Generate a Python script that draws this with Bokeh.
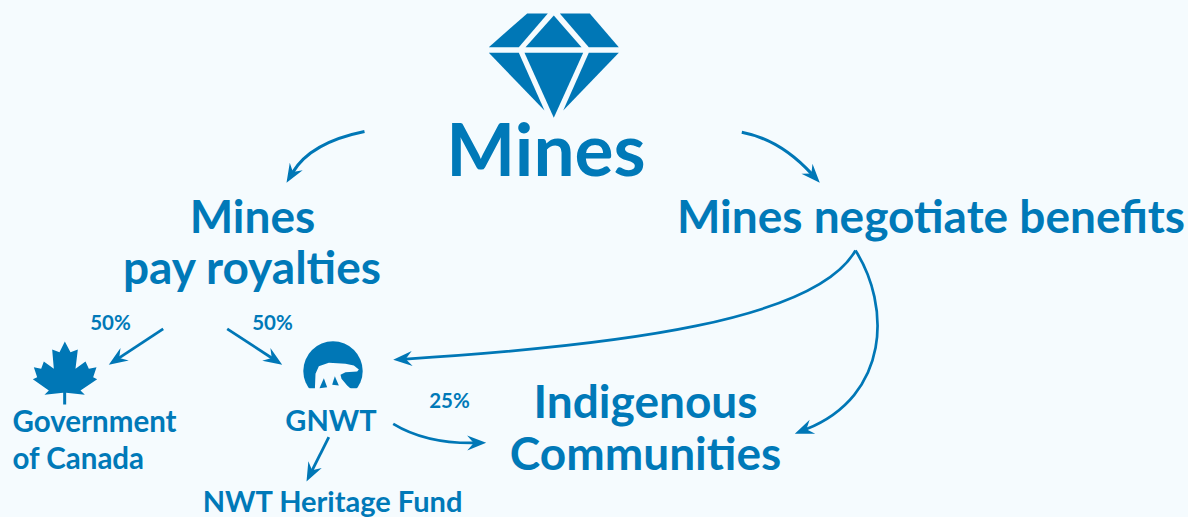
from bokeh.plotting import figure
from bokeh.models import Range1d
from bokeh.core.properties import value
from bokeh.embed import file_html
from bokeh.resources import INLINE
import numpy as np

BG = "#f5fbfe"
BLUE = "#0077b6"
TXT = "#0079b8"
FONT = "Lato"
BASE_SHIFT = 0.42  # em: the svg text sits this far under the requested baseline

# labels: text, left x, baseline y, font size px
labels = ["Mines", "Mines", "pay royalties", "Mines negotiate benefits", "Indigenous", "Communities",
          "Government", "of Canada", "GNWT", "NWT Heritage Fund", "50%", "50%", "25%"]
label_x = [545.5, 252, 252, 930.5, 645, 645, 12, 12, 330.5, 332.5, 110, 272, 449]
label_y = [178, 234, 285, 234, 419, 471, 432, 469, 431, 512, 330, 330, 408]
label_size = [73, 46, 46, 46, 46, 46, 29.5, 29.5, 29, 29, 20.5, 20.5, 20.5]
label_align = ["center", "center", "center", "center", "center", "center",
               "left", "left", "center", "center", "center", "center", "center"]

# curves: start, control(s), tip
quad_curves = [
    ((364, 131), (310, 142), (286, 182.3), 3.2),
    ((741.3, 131.7), (779.7, 139), (819.3, 182.3), 3.2),
    ((392.7, 423.3), (425, 443), (485.7, 442.3), 2.7),
]
cubic_curves = [
    ((855, 250), (815, 320), (620, 345), (392.7, 359.3), 2.7),
    ((855, 250), (890, 305), (890, 395), (794.3, 433.3), 2.7),
]
straight_arrows = [
    ((162.7, 328.3), (108.3, 364.3)),
    ((226.7, 328.3), (281.7, 364.3)),
    ((328.3, 436.7), (306, 481)),
]

diamond = [
    [(526.7, 13), (547.3, 13), (518.3, 46.7), (488.3, 46.7)],
    [(553.3, 15), (581, 46.7), (525, 46.7)],
    [(559.3, 13), (589.3, 13), (618.3, 46.7), (588.3, 46.7)],
    [(488.3, 52.3), (518.3, 52.3), (544, 110)],
    [(524, 52.3), (582.7, 52.3), (553.3, 117.3)],
    [(588.3, 52.3), (618.3, 52.3), (562.7, 110)],
]
leaf = [(118, 18), (135, 50), (157, 42), (150, 100), (180, 78), (190, 100), (213, 95), (203, 125),
        (215, 131), (165, 165), (178, 178), (122, 172), (122, 207), (113, 207), (113, 172), (57, 178),
        (70, 165), (22, 131), (35, 125), (25, 95), (47, 100), (55, 78), (85, 100), (80, 42), (102, 50)]
bear = [(58, 165), (60, 115), (70, 92), (100, 82), (150, 85), (175, 90), (190, 102), (185, 108), (150, 110),
        (135, 118), (138, 130), (155, 150), (172, 165)]
bear_legs = [[(72, 158), (85, 128), (95, 155)], [(110, 148), (118, 122), (130, 150)]]
disc = (332.5, 370.5, 29.7)
disc_cut_y = 387.8

p = figure(width=1188, height=517, output_backend="svg", toolbar_location=None,
           x_range=Range1d(0, 1188), y_range=Range1d(517, 0), min_border=0,
           background_fill_color=BG, border_fill_color=BG, outline_line_color=None)
p.axis.visible = False
p.grid.visible = False


def patch(pts, color):
    p.patch([q[0] for q in pts], [q[1] for q in pts], fill_color=color, line_color=None)


def head(tip, frm, L=19, W=7.5, N=12.5):
    d = np.array(tip, float) - np.array(frm, float)
    d /= np.hypot(*d)
    n = np.array([-d[1], d[0]])
    t = np.array(tip, float)
    patch([tuple(t), tuple(t - d * L + n * W), tuple(t - d * N), tuple(t - d * L - n * W)], BLUE)


for s, c, t, w in quad_curves:
    d = np.array(t, float) - np.array(c, float)
    e = np.array(t, float) - d / np.hypot(*d) * 12
    p.quadratic(x0=[s[0]], y0=[s[1]], x1=[e[0]], y1=[e[1]], cx=[c[0]], cy=[c[1]], line_color=BLUE, line_width=w)
    head(t, c)
for s, c1, c2, t, w in cubic_curves:
    d = np.array(t, float) - np.array(c2, float)
    e = np.array(t, float) - d / np.hypot(*d) * 12
    p.bezier(x0=[s[0]], y0=[s[1]], x1=[e[0]], y1=[e[1]], cx0=[c1[0]], cy0=[c1[1]], cx1=[c2[0]], cy1=[c2[1]],
             line_color=BLUE, line_width=w)
    head(t, c2)
for s, t in straight_arrows:
    d = np.array(t) - np.array(s)
    e = np.array(t) - d / np.hypot(*d) * 12
    p.line([s[0], e[0]], [s[1], e[1]], line_color=BLUE, line_width=2.8)
    head(t, s)

for poly in diamond:
    patch(poly, BLUE)

patch([(25 + a / 3, 335 + b / 3) for a, b in leaf], BLUE)

p.circle(x=[disc[0]], y=[disc[1]], radius=disc[2], fill_color=BLUE, line_color=None)
patch([(295, disc_cut_y), (370, disc_cut_y), (370, 403), (295, 403)], BG)
patch([(295 + a / 3, 335 + b / 3) for a, b in bear], BG)
for leg in bear_legs:
    patch([(295 + a / 3, 335 + b / 3) for a, b in leg], BLUE)

for txt, x, y, sz, al in zip(labels, label_x, label_y, label_size, label_align):
    p.text(x=[x], y=[y - BASE_SHIFT * sz], text=[txt], text_color=TXT, text_font=value(FONT), text_font_style="bold",
           text_font_size=f"{sz}px", text_align=al, text_baseline="alphabetic")

html = file_html(p, INLINE)
html = html.replace("</head>", f"<style>html,body{{margin:0;padding:0;background:{BG};overflow:hidden}}</style></head>", 1)
open("out.html", "w").write(html)
